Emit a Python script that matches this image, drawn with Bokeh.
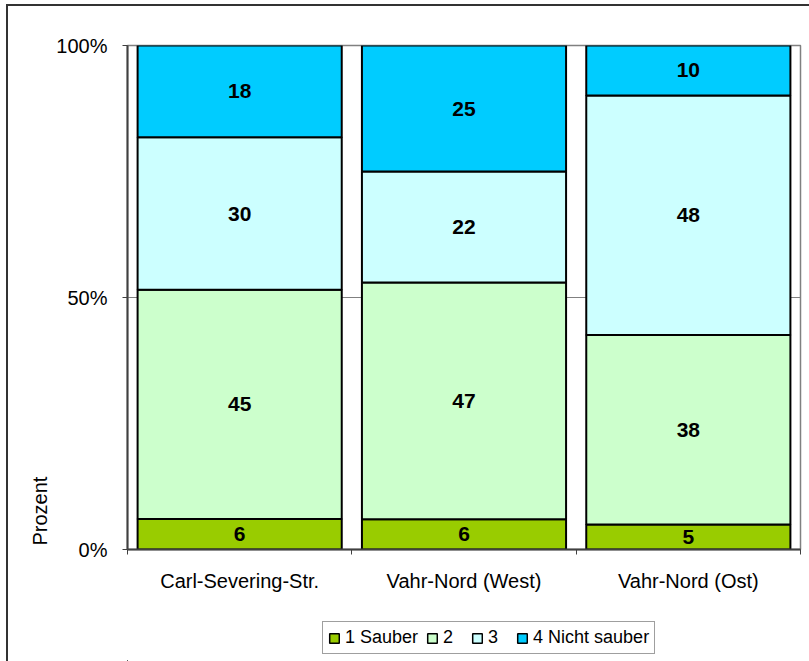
import math
from bokeh.plotting import figure
from bokeh.layouts import column
from bokeh.models import FixedTicker, Legend, LegendItem, Title, ColumnDataSource
from bokeh.core.properties import value
from bokeh.embed import file_html
from bokeh.resources import INLINE

# ---- data ----
categories = ["Carl-Severing-Str.", "Vahr-Nord (West)", "Vahr-Nord (Ost)"]
series_names = ["1 Sauber", "2", "3", "4 Nicht sauber"]
s1_sauber = [6, 6, 5]
s2 = [45, 47, 38]
s3 = [30, 22, 48]
s4_nicht_sauber = [18, 25, 10]
y_ticks = [0, 50, 100]
y_tick_labels = ["0%", "50%", "100%"]

colors = ["#99CC00", "#CCFFCC", "#CCFFFF", "#00CCFF"]
FONT = "Liberation Sans"

series = [s1_sauber, s2, s3, s4_nicht_sauber]
totals = [sum(vals) for vals in zip(*series)]
xs = [i + 0.5 for i in range(len(categories))]

p = figure(width=801, height=604, x_range=(0, 3), y_range=(0, 100),
           output_backend="svg", toolbar_location=None,
           min_border_left=119, min_border_right=9, min_border_top=39, min_border_bottom=61)
p.background_fill_color = "white"
p.border_fill_color = "white"
p.outline_line_color = "#808080"
p.outline_line_width = 1.5

# legend-only strip below the chart (its view ranges lie away from the bars)
lf = figure(width=801, height=51, x_range=(1000, 1001), y_range=(1000, 1001),
            output_backend="svg", toolbar_location=None,
            x_axis_type=None, y_axis_type=None,
            min_border_left=0, min_border_right=0, min_border_top=0, min_border_bottom=0)
lf.outline_line_color = None
lf.xgrid.visible = False
lf.ygrid.visible = False
lf.background_fill_color = "white"
lf.border_fill_color = "white"

bottoms = [0.0] * len(categories)
items = []
for name, vals, col in zip(series_names, series, colors):
    pct = [v / t * 100 for v, t in zip(vals, totals)]
    tops = [b + q for b, q in zip(bottoms, pct)]
    src = ColumnDataSource(dict(x=xs, bottom=bottoms, top=tops,
                                mid=[(b + t) / 2 for b, t in zip(bottoms, tops)],
                                lab=[str(v) for v in vals]))
    p.vbar(x="x", bottom="bottom", top="top", width=0.91, source=src,
           fill_color=col, line_color="black", line_width=2)
    p.text(x="x", y="mid", text="lab", source=src, text_font=value(FONT),
           text_font_size="21px", text_font_style="bold", text_color="black",
           text_align="center", text_baseline="middle")
    key = lf.vbar(x="x", bottom="bottom", top="top", width=0.91, source=src,
                  fill_color=col, line_color="black", line_width=1.5)
    items.append(LegendItem(label=name, renderers=[key]))
    bottoms = tops

# y axis
p.yaxis.ticker = FixedTicker(ticks=y_ticks)
p.yaxis.major_label_overrides = {t: l for t, l in zip(y_ticks, y_tick_labels)}
p.yaxis.major_label_text_font = FONT
p.yaxis.major_label_text_font_size = "20px"
p.yaxis.major_label_text_color = "black"
p.yaxis.axis_line_color = "#404040"
p.yaxis.axis_line_width = 2
p.yaxis.major_tick_line_color = "#404040"
p.yaxis.major_tick_in = 0
p.yaxis.major_tick_out = 5
p.yaxis.minor_tick_line_color = None
p.yaxis.major_label_standoff = 15

# x axis
p.xaxis.ticker = FixedTicker(ticks=xs, minor_ticks=[0, 1, 2, 3])
p.xaxis.major_label_overrides = {x: c for x, c in zip(xs, categories)}
p.xaxis.major_label_text_font = FONT
p.xaxis.major_label_text_font_size = "20px"
p.xaxis.major_label_text_color = "black"
p.xaxis.axis_line_color = "#404040"
p.xaxis.axis_line_width = 2
p.xaxis.major_tick_line_color = None
p.xaxis.major_tick_out = 0
p.xaxis.major_tick_in = 0
p.xaxis.minor_tick_line_color = "#404040"
p.xaxis.minor_tick_out = 5
p.xaxis.minor_tick_in = 0
p.xaxis.major_label_standoff = 15

p.xgrid.grid_line_color = None
p.ygrid.ticker = FixedTicker(ticks=y_ticks)
p.ygrid.grid_line_color = "#808080"
p.ygrid.grid_line_width = 1

# axis title, placed at the low end of the left side
p.add_layout(Title(text="Prozent", align="left", offset=4, standoff=6,
                   text_font=FONT, text_font_size="20px", text_font_style="normal",
                   text_color="black"), "left")

legend = Legend(items=items, orientation="horizontal", location=(195, 7),
                label_text_font=FONT, label_text_font_size="18px", label_text_color="black",
                glyph_width=12, glyph_height=12, label_standoff=5, spacing=8,
                padding=5, margin=0, border_line_color="#404040", border_line_width=1.5,
                background_fill_color="white", background_fill_alpha=1)
lf.add_layout(legend, "center")

layout = column(p, lf, spacing=0)
layout.styles = {"margin-left": "6px", "margin-top": "4px",
                 "border-left": "2px solid #333333", "border-top": "2px solid #333333"}

open("out.html", "w").write(file_html(layout, INLINE))
